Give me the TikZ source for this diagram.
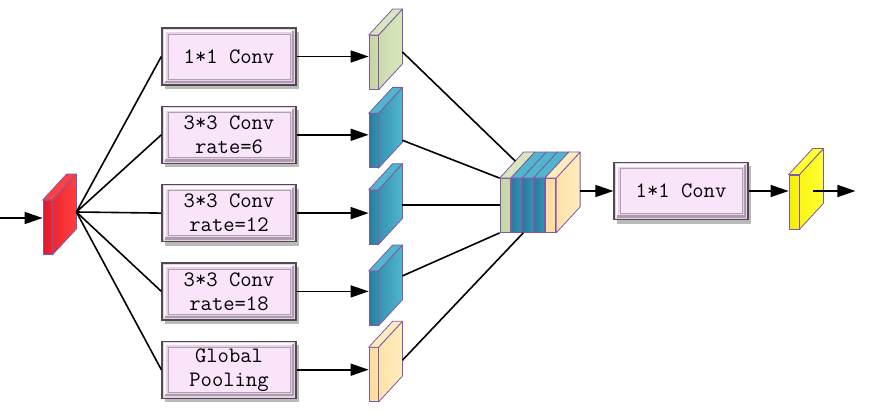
\documentclass[tikz,border=0pt]{standalone}
\usetikzlibrary{arrows.meta,positioning,calc,shadows}

\definecolor{boxpink}{RGB}{250,228,250}
\definecolor{framepink}{RGB}{234,206,234}
\definecolor{slabline}{RGB}{128,88,168}
\definecolor{redA}{RGB}{226,22,38}
\definecolor{redB}{RGB}{255,64,64}
\definecolor{greenA}{RGB}{196,212,162}
\definecolor{greenB}{RGB}{216,230,190}
\definecolor{blueA}{RGB}{36,124,158}
\definecolor{blueB}{RGB}{80,182,206}
\definecolor{orangeA}{RGB}{255,218,154}
\definecolor{orangeB}{RGB}{255,236,190}
\definecolor{yellowA}{RGB}{244,238,0}
\definecolor{yellowB}{RGB}{255,255,50}

% 3D feature slab: [width]{name}{placement}{front colour}{side colour}
\newcommand{\slab}[5][9pt]{%
  \node[slab, minimum width=#1, left color=#4, right color=#4!60!#5, #3] (#2) {};
  \draw[slabedge, left color=#4!60!#5, right color=#5]
    (#2.north east) -- ++(24,26) -- ($(#2.south east)+(24,26)$) -- (#2.south east) -- cycle;
  \draw[slabedge, fill=#5]
    (#2.north west) -- ++(24,26) -- ($(#2.north east)+(24,26)$) -- (#2.north east) -- cycle;
}

\begin{document}
\begin{tikzpicture}[
    x=1pt, y=1pt,
    node distance=20pt and 72pt,
    convbox/.style={rectangle, draw=black!70, line width=1.3pt, fill=framepink,
        minimum width=134pt, minimum height=57pt, inner sep=0pt, align=center,
        font=\ttfamily\fontsize{22}{24}\selectfont,
        drop shadow={shadow xshift=3pt, shadow yshift=-4pt, fill=black!60, opacity=0.45},
        path picture={
            \draw[white!85!framepink, line width=2.5pt]
                ($(path picture bounding box.south west)+(3,3)$) |- ($(path picture bounding box.north east)+(-3,-3)$);
            \draw[framepink!75!black, line width=2.5pt]
                ($(path picture bounding box.south west)+(3,3)$) -| ($(path picture bounding box.north east)+(-3,-3)$);
            \draw[black!35, fill=boxpink, line width=0.6pt]
                ($(path picture bounding box.south west)+(6,6)$) rectangle ($(path picture bounding box.north east)+(-6,-6)$);
        }},
    slab/.style={rectangle, draw=slabline, line width=0.8pt, inner sep=0pt, minimum height=54pt},
    slabedge/.style={draw=slabline, line width=0.8pt, line join=round},
    link/.style={line width=1.6pt},
    arrow/.style={->, >={Triangle[length=18pt,width=12pt]}, line width=1.6pt}
]
\useasboundingbox (0,0) rectangle (874,410);

% Input feature map
\slab{red}{at={(47.5,182.5)}}{redA}{redB}
\coordinate (in) at (0,192);
\coordinate (hub) at ($(red.east)+(24,15.5)$);
\draw[arrow] (in) -- (in -| red.west);

% Parallel branches
\node[convbox] (b1) at (229,353.5) {1*1 Conv};
\node[convbox, below=of b1] (b2) {3*3 Conv\\rate=6};
\node[convbox, below=of b2] (b3) {3*3 Conv\\rate=12};
\node[convbox, below=of b3] (b4) {3*3 Conv\\rate=18};
\node[convbox, below=of b4] (b5) {Global\\Pooling};

% Branch outputs
\slab{c1}{right=of b1, yshift=-6pt}{greenA}{greenB}
\slab{c2}{right=of b2, yshift=-6pt}{blueA}{blueB}
\slab{c3}{right=of b3, yshift=-4pt}{blueA}{blueB}
\slab{c4}{right=of b4, yshift=-7pt}{blueA}{blueB}
\slab{c5}{right=of b5, yshift=-5pt}{orangeA}{orangeB}

% Fan out
\foreach \b in {b1,b2,b3,b4,b5}
    \draw[link] (hub) -- (\b.west);
\foreach \i in {1,...,5}
    \draw[arrow] (b\i.east) -- (b\i.east -| c\i.west);

% Concatenation
\slab[10.5pt]{cat1}{at={(505.25,204.5)}}{greenA}{greenB}
\slab[10.5pt]{cat2}{right=0pt of cat1}{blueA}{blueB}
\slab[10.5pt]{cat3}{right=0pt of cat2}{blueA}{blueB}
\slab[10.5pt]{cat4}{right=0pt of cat3}{blueA}{blueB}
\slab[10.5pt]{cat5}{right=0pt of cat4}{orangeA}{orangeB}

\coordinate (s1) at ($(c1.east)+(24,10.5)$);
\coordinate (s2) at ($(c2.east)+(24,0.5)$);
\coordinate (s3) at ($(c3.east)+(24,12)$);
\coordinate (s4) at ($(c4.east)+(24,22.5)$);
\coordinate (s5) at ($(c5.east)+(24,14.5)$);
\draw[link] (s1) -- ($(cat1.north west)+(15.7,17)$);
\draw[link] (s2) -- (cat1.north west);
\draw[link] (s3) -- (s3 -| cat1.west);
\draw[link] (s4) -- (cat1.south west);
\draw[link] (s5) -- ($(cat2.south east)+(1,0)$);

% Output
\coordinate (catout) at ($(cat5.east)+(24,0)$);
\node[convbox] (fbox) at (681,219) {1*1 Conv};
\draw[arrow] (fbox.west -| catout) -- (fbox.west);
\slab[10pt]{yel}{at={(794,208)}}{yellowA}{yellowB}
\draw[arrow] (fbox.east) -- (fbox.east -| yel.west);
\coordinate (yelmid) at ($(yel.east)+(14,11)$);
\coordinate (out) at ($(yelmid)+(42,0)$);
\draw[arrow] (yelmid) -- (out);

\end{tikzpicture}
\end{document}
